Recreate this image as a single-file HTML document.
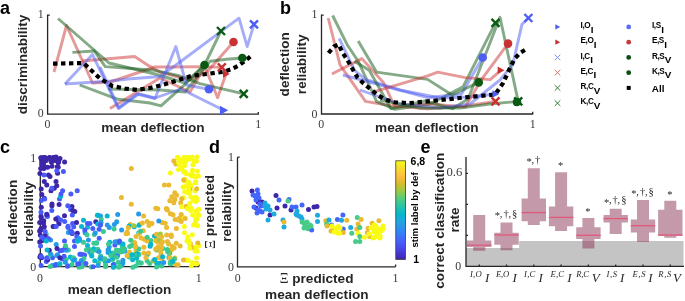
<!DOCTYPE html><html><head><meta charset="utf-8"><style>html,body{margin:0;padding:0;background:#fff;overflow:hidden}svg{display:block}</style></head><body><svg width="685" height="301" viewBox="0 0 685 301" style="will-change:transform">
<rect width="685" height="301" fill="#fff"/>
<text x="0" y="13.9" font-size="18" text-anchor="start" font-weight="bold" font-family='"Liberation Sans", sans-serif' fill="#000" font-style="normal" >a</text>
<path d="M47.6,14.6 V114.1 H258.9 M258.3,114.1 V111.89999999999999 M47.6,15.2 H49.800000000000004" fill="none" stroke="#262626" stroke-width="1.3" stroke-linecap="butt"/>
<text transform="translate(43.6,17.8) scale(0.9,1)" font-size="13.2" text-anchor="end" font-weight="normal" font-family='"Liberation Serif", serif' fill="#3a3a3a" font-style="normal" >1</text>
<text transform="translate(43.6,117.2) scale(0.9,1)" font-size="13.2" text-anchor="end" font-weight="normal" font-family='"Liberation Serif", serif' fill="#3a3a3a" font-style="normal" >0</text>
<text transform="translate(47.5,128.2) scale(0.9,1)" font-size="13.2" text-anchor="middle" font-weight="normal" font-family='"Liberation Serif", serif' fill="#3a3a3a" font-style="normal" >0</text>
<text transform="translate(258.1,128.2) scale(0.9,1)" font-size="13.2" text-anchor="middle" font-weight="normal" font-family='"Liberation Serif", serif' fill="#3a3a3a" font-style="normal" >1</text>
<text x="152.9" y="131.8" font-size="13.6" text-anchor="middle" font-weight="bold" font-family='"Liberation Sans", sans-serif' fill="#262626" font-style="normal" >mean deflection</text>
<text transform="translate(27.3,64.5) rotate(-90)" font-size="13.6" text-anchor="middle" font-weight="bold" font-family='"Liberation Sans", sans-serif' fill="#262626">discriminability</text>
<path d="M54.0,72.0 L66.5,25.5 L92.5,83.0 L110.0,82.0 L155.0,67.0 L175.0,67.0 L203.0,66.6 L221.8,67.4" fill="none" stroke="#cc3333" stroke-width="2.9" stroke-opacity="0.5" stroke-linejoin="round" stroke-linecap="butt"/>
<path d="M82.0,61.0 L134.7,56.5 L147.5,65.0 L160.0,72.0 L190.0,80.0 L207.0,72.0 L233.5,42.0" fill="none" stroke="#cc3333" stroke-width="2.9" stroke-opacity="0.5" stroke-linejoin="round" stroke-linecap="butt"/>
<path d="M110.0,108.4 L160.0,78.0 L190.0,92.0 L204.8,66.6 L217.6,97.7 L226.0,74.0" fill="none" stroke="#cc3333" stroke-width="2.9" stroke-opacity="0.5" stroke-linejoin="round" stroke-linecap="butt"/>
<path d="M58.0,18.5 L109.0,63.0 L155.0,74.0 L185.0,83.0 L204.5,65.0 L221.0,31.0" fill="none" stroke="#0a550f" stroke-width="2.9" stroke-opacity="0.5" stroke-linejoin="round" stroke-linecap="butt"/>
<path d="M72.4,52.4 L94.3,51.0 L105.3,66.6 L154.6,70.3 L180.0,76.0 L200.0,83.6 L243.7,93.8" fill="none" stroke="#0a550f" stroke-width="2.9" stroke-opacity="0.5" stroke-linejoin="round" stroke-linecap="butt"/>
<path d="M79.7,85.0 L118.0,99.3 L150.0,103.0 L161.0,105.8 L186.5,83.0 L204.5,65.0" fill="none" stroke="#0a550f" stroke-width="2.9" stroke-opacity="0.5" stroke-linejoin="round" stroke-linecap="butt"/>
<path d="M108.0,89.0 L160.0,90.0 L185.0,92.0 L210.3,61.2 L226.8,59.3 L242.3,58.0" fill="none" stroke="#0a550f" stroke-width="2.9" stroke-opacity="0.5" stroke-linejoin="round" stroke-linecap="butt"/>
<path d="M65.0,84.0 L92.5,54.6 L118.0,108.0 L137.0,94.0 L155.0,98.5 L175.8,46.5 L186.5,85.0 L208.9,89.3" fill="none" stroke="#4c5cf2" stroke-width="2.9" stroke-opacity="0.5" stroke-linejoin="round" stroke-linecap="butt"/>
<path d="M65.0,84.0 L111.0,81.0 L128.0,79.0 L160.0,76.5 L178.7,63.0 L239.0,18.2 L247.2,46.6 L254.0,24.3" fill="none" stroke="#4c5cf2" stroke-width="2.9" stroke-opacity="0.5" stroke-linejoin="round" stroke-linecap="butt"/>
<path d="M100.0,67.0 L119.0,108.4 L139.0,93.8 L155.0,98.0 L181.0,89.0 L222.8,109.8" fill="none" stroke="#4c5cf2" stroke-width="2.9" stroke-opacity="0.5" stroke-linejoin="round" stroke-linecap="butt"/>
<path d="M53.0,63.7 L83.4,63.0 L100.0,78.6 L112.5,86.1 L125.0,88.6 L137.4,89.9 L150.0,88.0 L162.3,85.0 L174.8,81.2 L191.7,75.8 L208.3,73.8 L224.1,71.6 L231.6,69.1 L238.3,65.8 L244.0,61.6 L251.5,55.6" fill="none" stroke="#000" stroke-width="4.2" stroke-opacity="1" stroke-linejoin="round" stroke-linecap="butt" stroke-dasharray="4.4,3.6"/>
<path d="M250.0,20.3 L258.0,28.3 M250.0,28.3 L258.0,20.3" stroke="#4d5ef5" stroke-width="2.4" fill="none"/>
<path d="M217.0,27.0 L225.0,35.0 M217.0,35.0 L225.0,27.0" stroke="#0b5a14" stroke-width="2.4" fill="none"/>
<circle cx="233.5" cy="42" r="4.3" fill="#c83232"/>
<circle cx="242.3" cy="58" r="4.3" fill="#0b5a14"/>
<circle cx="204.5" cy="65" r="4.3" fill="#0b5a14"/>
<path d="M217.8,63.400000000000006 L225.8,71.4 M217.8,71.4 L225.8,63.400000000000006" stroke="#c83232" stroke-width="2.4" fill="none"/>
<path d="M222.96,70.2 L229.8,74 L222.96,77.8 Z" fill="#c83232"/>
<circle cx="208.9" cy="89.3" r="4.3" fill="#4d5ef5"/>
<path d="M239.7,89.8 L247.7,97.8 M239.7,97.8 L247.7,89.8" stroke="#0b5a14" stroke-width="2.4" fill="none"/>
<path d="M219.92,105.7 L228.2,110.3 L219.92,114.89999999999999 Z" fill="#4d5ef5"/>
<text x="280" y="13.9" font-size="18" text-anchor="start" font-weight="bold" font-family='"Liberation Sans", sans-serif' fill="#000" font-style="normal" >b</text>
<path d="M321.5,14.6 V114.0 H533.3 M532.7,114.0 V111.8 M321.5,15.2 H323.7" fill="none" stroke="#262626" stroke-width="1.3" stroke-linecap="butt"/>
<text transform="translate(317.4,18.2) scale(0.9,1)" font-size="13.2" text-anchor="end" font-weight="normal" font-family='"Liberation Serif", serif' fill="#3a3a3a" font-style="normal" >1</text>
<text transform="translate(317.4,117.6) scale(0.9,1)" font-size="13.2" text-anchor="end" font-weight="normal" font-family='"Liberation Serif", serif' fill="#3a3a3a" font-style="normal" >0</text>
<text transform="translate(321.3,128.4) scale(0.9,1)" font-size="13.2" text-anchor="middle" font-weight="normal" font-family='"Liberation Serif", serif' fill="#3a3a3a" font-style="normal" >0</text>
<text transform="translate(532.8,128.4) scale(0.9,1)" font-size="13.2" text-anchor="middle" font-weight="normal" font-family='"Liberation Serif", serif' fill="#3a3a3a" font-style="normal" >1</text>
<text x="426.85" y="131.9" font-size="13.6" text-anchor="middle" font-weight="bold" font-family='"Liberation Sans", sans-serif' fill="#262626" font-style="normal" >mean deflection</text>
<text transform="translate(289.2,64.3) rotate(-90)" font-size="13.6" text-anchor="middle" font-weight="bold" font-family='"Liberation Sans", sans-serif' fill="#262626">deflection</text>
<text transform="translate(306.0,64.3) rotate(-90)" font-size="13.6" text-anchor="middle" font-weight="bold" font-family='"Liberation Sans", sans-serif' fill="#262626">reliability</text>
<path d="M328.2,18.0 L340.0,64.8 L365.5,101.4 L391.0,105.8 L427.6,108.7 L465.0,106.0 L495.5,101.4" fill="none" stroke="#cc3333" stroke-width="2.9" stroke-opacity="0.5" stroke-linejoin="round" stroke-linecap="butt"/>
<path d="M332.6,15.5 L347.2,44.7 L358.2,61.2 L376.5,101.4 L394.8,109.4 L430.0,104.0 L463.0,86.8 L495.5,22.8" fill="none" stroke="#0a550f" stroke-width="2.9" stroke-opacity="0.5" stroke-linejoin="round" stroke-linecap="butt"/>
<path d="M339.2,38.5 L354.5,70.3 L365.5,79.4 L400.0,90.0 L440.0,98.0 L470.0,97.0 L495.5,94.0" fill="none" stroke="#4c5cf2" stroke-width="2.9" stroke-opacity="0.5" stroke-linejoin="round" stroke-linecap="butt"/>
<path d="M331.9,74.0 L361.9,58.6 L383.8,83.0 L394.8,106.9 L430.0,104.0 L465.2,106.9 L481.6,79.4 L508.0,43.6" fill="none" stroke="#cc3333" stroke-width="2.9" stroke-opacity="0.5" stroke-linejoin="round" stroke-linecap="butt"/>
<path d="M342.9,75.0 L427.6,97.7 L461.5,94.0 L482.7,57.5" fill="none" stroke="#4c5cf2" stroke-width="2.9" stroke-opacity="0.5" stroke-linejoin="round" stroke-linecap="butt"/>
<path d="M358.2,41.0 L376.5,72.1 L427.6,79.4 L452.0,95.0 L478.7,82.4" fill="none" stroke="#0a550f" stroke-width="2.9" stroke-opacity="0.5" stroke-linejoin="round" stroke-linecap="butt"/>
<path d="M354.5,61.2 L369.2,70.3 L391.0,108.7 L425.0,101.0 L452.4,108.7 L468.0,99.0 L500.0,17.3 L518.2,101.4" fill="none" stroke="#0a550f" stroke-width="2.9" stroke-opacity="0.5" stroke-linejoin="round" stroke-linecap="butt"/>
<path d="M372.8,92.2 L427.6,75.8 L437.8,72.1 L465.2,77.6 L490.2,79.6 L500.7,70.3" fill="none" stroke="#cc3333" stroke-width="2.9" stroke-opacity="0.5" stroke-linejoin="round" stroke-linecap="butt"/>
<path d="M360.0,90.0 L400.0,104.0 L440.0,108.0 L470.0,104.0 L500.0,80.0 L512.7,64.8 L521.9,24.6 L528.4,18.0" fill="none" stroke="#4c5cf2" stroke-width="2.9" stroke-opacity="0.5" stroke-linejoin="round" stroke-linecap="butt"/>
<path d="M380.0,100.0 L420.0,108.0 L460.0,108.0 L490.0,104.0 L518.2,101.4" fill="none" stroke="#0a550f" stroke-width="2.9" stroke-opacity="0.5" stroke-linejoin="round" stroke-linecap="butt"/>
<path d="M328.5,53.0 L334.0,46.5 L338.7,44.5 L342.4,52.5 L347.4,60.0 L352.4,68.7 L357.4,77.4 L363.6,83.6 L369.9,88.6 L377.4,94.9 L384.8,99.3 L394.8,102.3 L409.4,103.2 L427.6,101.4 L468.9,97.0 L495.0,94.5 L499.0,89.0 L503.0,83.1 L508.9,70.3 L514.7,58.6 L520.5,52.6 L527.6,48.4" fill="none" stroke="#000" stroke-width="4.2" stroke-opacity="1" stroke-linejoin="round" stroke-linecap="butt" stroke-dasharray="4.4,3.6"/>
<path d="M491.5,18.8 L499.5,26.8 M491.5,26.8 L499.5,18.8" stroke="#0b5a14" stroke-width="2.4" fill="none"/>
<path d="M524.4,14.0 L532.4,22.0 M524.4,22.0 L532.4,14.0" stroke="#4d5ef5" stroke-width="2.4" fill="none"/>
<circle cx="508" cy="43.6" r="4.3" fill="#c83232"/>
<circle cx="482.7" cy="57.5" r="4.3" fill="#4d5ef5"/>
<path d="M497.65999999999997,66.5 L504.5,70.3 L497.65999999999997,74.1 Z" fill="#c83232"/>
<circle cx="478.7" cy="82.4" r="4.3" fill="#0b5a14"/>
<path d="M492.46,90.2 L499.3,94 L492.46,97.8 Z" fill="#4d5ef5"/>
<path d="M491.5,97.4 L499.5,105.4 M491.5,105.4 L499.5,97.4" stroke="#c83232" stroke-width="2.4" fill="none"/>
<circle cx="517" cy="102" r="4.3" fill="#0b5a14"/>
<path d="M514.2,97.4 L522.2,105.4 M514.2,105.4 L522.2,97.4" stroke="#0b5a14" stroke-width="2.4" fill="none"/>
<path d="M555.34,24.2 L560.2,26.9 L555.34,29.599999999999998 Z" fill="#4d5ef5"/>
<text x="580.6" y="28.099999999999998" font-size="8.2" font-weight="bold" font-family='"Liberation Sans", sans-serif' fill="#000" letter-spacing="-0.45">I,O<tspan font-size="9.9" dx="0.5" dy="4.4" letter-spacing="0">I</tspan></text>
<path d="M555.34,39.449999999999996 L560.2,42.15 L555.34,44.85 Z" fill="#c83232"/>
<text x="580.6" y="43.35" font-size="8.2" font-weight="bold" font-family='"Liberation Sans", sans-serif' fill="#000" letter-spacing="-0.45">E,O<tspan font-size="9.9" dx="0.5" dy="4.4" letter-spacing="0">I</tspan></text>
<path d="M554.7,54.6 L560.3,60.199999999999996 M554.7,60.199999999999996 L560.3,54.6" stroke="#7f8cf5" stroke-width="1.0" fill="none"/>
<text x="580.6" y="58.6" font-size="8.2" font-weight="bold" font-family='"Liberation Sans", sans-serif' fill="#000" letter-spacing="-0.45">I,C<tspan font-size="9.9" dx="0.5" dy="4.4" letter-spacing="0">I</tspan></text>
<path d="M554.7,69.85000000000001 L560.3,75.45 M554.7,75.45 L560.3,69.85000000000001" stroke="#d97373" stroke-width="1.0" fill="none"/>
<text x="580.6" y="73.85000000000001" font-size="8.2" font-weight="bold" font-family='"Liberation Sans", sans-serif' fill="#000" letter-spacing="-0.45">E,C<tspan font-size="9.9" dx="0.5" dy="4.4" letter-spacing="0">I</tspan></text>
<path d="M554.7,85.10000000000001 L560.3,90.7 M554.7,90.7 L560.3,85.10000000000001" stroke="#2e7d32" stroke-width="1.0" fill="none"/>
<text x="580.6" y="89.10000000000001" font-size="8.2" font-weight="bold" font-family='"Liberation Sans", sans-serif' fill="#000" letter-spacing="-0.45">R,C<tspan font-size="9.9" dx="0.5" dy="4.4" letter-spacing="0">V</tspan></text>
<path d="M554.7,100.35000000000001 L560.3,105.95 M554.7,105.95 L560.3,100.35000000000001" stroke="#2e7d32" stroke-width="1.0" fill="none"/>
<text x="580.6" y="104.35000000000001" font-size="8.2" font-weight="bold" font-family='"Liberation Sans", sans-serif' fill="#000" letter-spacing="-0.45">K,C<tspan font-size="9.9" dx="0.5" dy="4.4" letter-spacing="0">V</tspan></text>
<circle cx="628.7" cy="26.9" r="2.4" fill="#5b6cf2"/>
<text x="652.0" y="28.099999999999998" font-size="8.2" font-weight="bold" font-family='"Liberation Sans", sans-serif' fill="#000" letter-spacing="-0.45">I,S<tspan font-size="9.9" dx="0.5" dy="4.4" letter-spacing="0">I</tspan></text>
<circle cx="628.7" cy="42.15" r="2.4" fill="#c83a3a"/>
<text x="652.0" y="43.35" font-size="8.2" font-weight="bold" font-family='"Liberation Sans", sans-serif' fill="#000" letter-spacing="-0.45">E,S<tspan font-size="9.9" dx="0.5" dy="4.4" letter-spacing="0">I</tspan></text>
<circle cx="628.7" cy="57.4" r="2.4" fill="#0b4d12"/>
<text x="652.0" y="58.6" font-size="8.2" font-weight="bold" font-family='"Liberation Sans", sans-serif' fill="#000" letter-spacing="-0.45">R,S<tspan font-size="9.9" dx="0.5" dy="4.4" letter-spacing="0">V</tspan></text>
<circle cx="628.7" cy="72.65" r="2.4" fill="#0b4d12"/>
<text x="652.0" y="73.85000000000001" font-size="8.2" font-weight="bold" font-family='"Liberation Sans", sans-serif' fill="#000" letter-spacing="-0.45">K,S<tspan font-size="9.9" dx="0.5" dy="4.4" letter-spacing="0">V</tspan></text>
<rect x="626.7" y="85.9" width="4" height="4" fill="#000"/>
<text x="651.8" y="91.60000000000001" font-size="9.9" text-anchor="start" font-weight="bold" font-family='"Liberation Sans", sans-serif' fill="#000" font-style="normal" >All</text>
<text x="0" y="152.7" font-size="18" text-anchor="start" font-weight="bold" font-family='"Liberation Sans", sans-serif' fill="#000" font-style="normal" >c</text>
<path d="M40.3,157.4 V266.6 H199.0 M199.0,266.6 V264.40000000000003 M40.3,157.4 H42.5" fill="none" stroke="#262626" stroke-width="1.3" stroke-linecap="butt"/>
<circle cx="161.9" cy="258.5" r="2.5" fill="#eaba31"/>
<circle cx="186.9" cy="241.0" r="2.5" fill="#f9fb15"/>
<circle cx="161.0" cy="254.1" r="2.5" fill="#eaba31"/>
<circle cx="166.4" cy="208.8" r="2.5" fill="#eaba31"/>
<circle cx="185.6" cy="260.0" r="2.5" fill="#f9fb15"/>
<circle cx="147.3" cy="254.5" r="2.5" fill="#05b6ce"/>
<circle cx="129.7" cy="246.5" r="2.5" fill="#3bc992"/>
<circle cx="39.9" cy="256.9" r="2.5" fill="#3e26a8"/>
<circle cx="49.5" cy="157.7" r="2.5" fill="#3e26a8"/>
<circle cx="162.9" cy="248.6" r="2.5" fill="#3bc992"/>
<circle cx="98.5" cy="262.7" r="2.5" fill="#3bc992"/>
<circle cx="107.3" cy="224.9" r="2.5" fill="#2699ea"/>
<circle cx="58.2" cy="167.2" r="2.5" fill="#3e26a8"/>
<circle cx="187.1" cy="207.4" r="2.5" fill="#f9fb15"/>
<circle cx="45.5" cy="157.8" r="2.5" fill="#3e26a8"/>
<circle cx="139.7" cy="263.0" r="2.5" fill="#3bc992"/>
<circle cx="91.2" cy="266.9" r="2.5" fill="#3bc992"/>
<circle cx="156.4" cy="237.0" r="2.5" fill="#eaba31"/>
<circle cx="154.5" cy="235.9" r="2.5" fill="#05b6ce"/>
<circle cx="89.5" cy="249.5" r="2.5" fill="#3bc992"/>
<circle cx="68.4" cy="232.5" r="2.5" fill="#2699ea"/>
<circle cx="79.7" cy="240.3" r="2.5" fill="#05b6ce"/>
<circle cx="122.9" cy="246.2" r="2.5" fill="#05b6ce"/>
<circle cx="138.4" cy="254.0" r="2.5" fill="#3bc992"/>
<circle cx="47.4" cy="216.6" r="2.5" fill="#475cfa"/>
<circle cx="171.5" cy="249.7" r="2.5" fill="#eaba31"/>
<circle cx="41.8" cy="240.8" r="2.5" fill="#3e26a8"/>
<circle cx="56.0" cy="157.1" r="2.5" fill="#3e26a8"/>
<circle cx="122.9" cy="262.7" r="2.5" fill="#05b6ce"/>
<circle cx="105.5" cy="266.6" r="2.5" fill="#3bc992"/>
<circle cx="198.8" cy="245.7" r="2.5" fill="#f9fb15"/>
<circle cx="68.0" cy="265.8" r="2.5" fill="#2699ea"/>
<circle cx="99.9" cy="258.4" r="2.5" fill="#05b6ce"/>
<circle cx="133.2" cy="244.7" r="2.5" fill="#3bc992"/>
<circle cx="41.5" cy="257.8" r="2.5" fill="#3e26a8"/>
<circle cx="62.5" cy="250.3" r="2.5" fill="#475cfa"/>
<circle cx="161.6" cy="247.4" r="2.5" fill="#eaba31"/>
<circle cx="50.5" cy="240.1" r="2.5" fill="#2699ea"/>
<circle cx="122.1" cy="248.4" r="2.5" fill="#3bc992"/>
<circle cx="73.8" cy="260.2" r="2.5" fill="#05b6ce"/>
<circle cx="52.2" cy="265.5" r="2.5" fill="#2699ea"/>
<circle cx="167.4" cy="210.1" r="2.5" fill="#eaba31"/>
<circle cx="198.8" cy="209.3" r="2.5" fill="#f9fb15"/>
<circle cx="46.2" cy="234.2" r="2.5" fill="#3bc992"/>
<circle cx="197.3" cy="200.3" r="2.5" fill="#f9fb15"/>
<circle cx="79.0" cy="267.2" r="2.5" fill="#3bc992"/>
<circle cx="130.3" cy="224.5" r="2.5" fill="#eaba31"/>
<circle cx="83.5" cy="242.3" r="2.5" fill="#3bc992"/>
<circle cx="55.1" cy="265.3" r="2.5" fill="#475cfa"/>
<circle cx="41.3" cy="158.5" r="2.5" fill="#3e26a8"/>
<circle cx="71.0" cy="230.9" r="2.5" fill="#475cfa"/>
<circle cx="46.7" cy="214.3" r="2.5" fill="#475cfa"/>
<circle cx="140.0" cy="224.3" r="2.5" fill="#eaba31"/>
<circle cx="77.3" cy="233.2" r="2.5" fill="#3e26a8"/>
<circle cx="135.6" cy="246.3" r="2.5" fill="#eaba31"/>
<circle cx="82.0" cy="266.7" r="2.5" fill="#3bc992"/>
<circle cx="52.5" cy="257.8" r="2.5" fill="#475cfa"/>
<circle cx="81.0" cy="254.2" r="2.5" fill="#05b6ce"/>
<circle cx="143.9" cy="252.9" r="2.5" fill="#eaba31"/>
<circle cx="105.4" cy="261.9" r="2.5" fill="#05b6ce"/>
<circle cx="82.9" cy="264.5" r="2.5" fill="#2699ea"/>
<circle cx="122.5" cy="246.7" r="2.5" fill="#3bc992"/>
<circle cx="191.2" cy="208.3" r="2.5" fill="#f9fb15"/>
<circle cx="76.8" cy="236.5" r="2.5" fill="#475cfa"/>
<circle cx="97.4" cy="215.3" r="2.5" fill="#05b6ce"/>
<circle cx="84.6" cy="254.9" r="2.5" fill="#475cfa"/>
<circle cx="197.4" cy="171.2" r="2.5" fill="#f9fb15"/>
<circle cx="185.3" cy="157.7" r="2.5" fill="#f9fb15"/>
<circle cx="41.8" cy="194.6" r="2.5" fill="#3e26a8"/>
<circle cx="195.5" cy="182.7" r="2.5" fill="#f9fb15"/>
<circle cx="113.6" cy="265.3" r="2.5" fill="#05b6ce"/>
<circle cx="107.2" cy="215.9" r="2.5" fill="#05b6ce"/>
<circle cx="139.0" cy="225.2" r="2.5" fill="#05b6ce"/>
<circle cx="192.3" cy="234.8" r="2.5" fill="#f9fb15"/>
<circle cx="112.6" cy="259.1" r="2.5" fill="#05b6ce"/>
<circle cx="184.7" cy="191.8" r="2.5" fill="#f9fb15"/>
<circle cx="108.1" cy="252.5" r="2.5" fill="#2699ea"/>
<circle cx="147.1" cy="260.9" r="2.5" fill="#3bc992"/>
<circle cx="120.0" cy="243.0" r="2.5" fill="#05b6ce"/>
<circle cx="156.6" cy="249.9" r="2.5" fill="#3bc992"/>
<circle cx="186.1" cy="158.2" r="2.5" fill="#f9fb15"/>
<circle cx="197.2" cy="251.0" r="2.5" fill="#f9fb15"/>
<circle cx="132.6" cy="259.7" r="2.5" fill="#05b6ce"/>
<circle cx="197.5" cy="213.6" r="2.5" fill="#f9fb15"/>
<circle cx="143.2" cy="230.7" r="2.5" fill="#eaba31"/>
<circle cx="159.4" cy="264.8" r="2.5" fill="#3bc992"/>
<circle cx="183.7" cy="197.8" r="2.5" fill="#f9fb15"/>
<circle cx="169.3" cy="258.2" r="2.5" fill="#eaba31"/>
<circle cx="196.1" cy="250.8" r="2.5" fill="#f9fb15"/>
<circle cx="188.2" cy="260.4" r="2.5" fill="#f9fb15"/>
<circle cx="118.6" cy="267.3" r="2.5" fill="#3bc992"/>
<circle cx="138.1" cy="261.9" r="2.5" fill="#3bc992"/>
<circle cx="57.6" cy="254.7" r="2.5" fill="#2699ea"/>
<circle cx="157.7" cy="242.0" r="2.5" fill="#eaba31"/>
<circle cx="55.3" cy="160.6" r="2.5" fill="#3e26a8"/>
<circle cx="56.9" cy="255.4" r="2.5" fill="#2699ea"/>
<circle cx="169.0" cy="257.2" r="2.5" fill="#05b6ce"/>
<circle cx="156.5" cy="234.2" r="2.5" fill="#eaba31"/>
<circle cx="175.1" cy="219.6" r="2.5" fill="#eaba31"/>
<circle cx="145.9" cy="257.5" r="2.5" fill="#eaba31"/>
<circle cx="112.5" cy="252.9" r="2.5" fill="#3bc992"/>
<circle cx="56.2" cy="244.6" r="2.5" fill="#2699ea"/>
<circle cx="124.5" cy="248.9" r="2.5" fill="#3bc992"/>
<circle cx="43.4" cy="163.7" r="2.5" fill="#3e26a8"/>
<circle cx="183.7" cy="217.7" r="2.5" fill="#f9fb15"/>
<circle cx="89.9" cy="223.5" r="2.5" fill="#475cfa"/>
<circle cx="59.5" cy="199.0" r="2.5" fill="#475cfa"/>
<circle cx="50.4" cy="253.9" r="2.5" fill="#3bc992"/>
<circle cx="192.1" cy="157.0" r="2.5" fill="#f9fb15"/>
<circle cx="131.3" cy="168.5" r="2.5" fill="#eaba31"/>
<circle cx="43.7" cy="168.4" r="2.5" fill="#3e26a8"/>
<circle cx="79.9" cy="254.3" r="2.5" fill="#475cfa"/>
<circle cx="94.4" cy="234.6" r="2.5" fill="#3bc992"/>
<circle cx="178.1" cy="264.8" r="2.5" fill="#eaba31"/>
<circle cx="45.1" cy="235.8" r="2.5" fill="#3e26a8"/>
<circle cx="48.5" cy="175" r="2.5" fill="#3e26a8"/>
<circle cx="96.3" cy="250.1" r="2.5" fill="#05b6ce"/>
<circle cx="135.8" cy="266.0" r="2.5" fill="#3bc992"/>
<circle cx="116.4" cy="250.1" r="2.5" fill="#3bc992"/>
<circle cx="46.9" cy="215.9" r="2.5" fill="#475cfa"/>
<circle cx="49.3" cy="157.8" r="2.5" fill="#3e26a8"/>
<circle cx="117.7" cy="242.0" r="2.5" fill="#475cfa"/>
<circle cx="124.7" cy="251.2" r="2.5" fill="#2699ea"/>
<circle cx="68.4" cy="249.9" r="2.5" fill="#3bc992"/>
<circle cx="194.9" cy="248.5" r="2.5" fill="#eaba31"/>
<circle cx="100.6" cy="256.1" r="2.5" fill="#3bc992"/>
<circle cx="171.8" cy="196.8" r="2.5" fill="#eaba31"/>
<circle cx="190.4" cy="243.8" r="2.5" fill="#eaba31"/>
<circle cx="189.9" cy="248.1" r="2.5" fill="#f9fb15"/>
<circle cx="179.2" cy="164.6" r="2.5" fill="#f9fb15"/>
<circle cx="186.5" cy="185.8" r="2.5" fill="#f9fb15"/>
<circle cx="41.2" cy="217.7" r="2.5" fill="#3e26a8"/>
<circle cx="98.0" cy="265.5" r="2.5" fill="#2699ea"/>
<circle cx="195.8" cy="197.3" r="2.5" fill="#f9fb15"/>
<circle cx="52.2" cy="158.4" r="2.5" fill="#3e26a8"/>
<circle cx="44" cy="175" r="2.5" fill="#475cfa"/>
<circle cx="185.2" cy="218.4" r="2.5" fill="#eaba31"/>
<circle cx="40.3" cy="235.1" r="2.5" fill="#3e26a8"/>
<circle cx="46.9" cy="214.4" r="2.5" fill="#3e26a8"/>
<circle cx="178.1" cy="157.6" r="2.5" fill="#f9fb15"/>
<circle cx="53.4" cy="160.1" r="2.5" fill="#3e26a8"/>
<circle cx="129.2" cy="256.9" r="2.5" fill="#3bc992"/>
<circle cx="100.5" cy="216.0" r="2.5" fill="#2699ea"/>
<circle cx="103.6" cy="259.5" r="2.5" fill="#3bc992"/>
<circle cx="112.4" cy="259.5" r="2.5" fill="#3bc992"/>
<circle cx="185.6" cy="162.1" r="2.5" fill="#f9fb15"/>
<circle cx="134.7" cy="242.4" r="2.5" fill="#eaba31"/>
<circle cx="114.9" cy="244.9" r="2.5" fill="#475cfa"/>
<circle cx="171.3" cy="236.5" r="2.5" fill="#eaba31"/>
<circle cx="194.4" cy="160.9" r="2.5" fill="#f9fb15"/>
<circle cx="71.9" cy="206.5" r="2.5" fill="#3e26a8"/>
<circle cx="174.8" cy="258.0" r="2.5" fill="#eaba31"/>
<circle cx="74.8" cy="211.6" r="2.5" fill="#3e26a8"/>
<circle cx="162.1" cy="222.4" r="2.5" fill="#eaba31"/>
<circle cx="190.7" cy="196.8" r="2.5" fill="#f9fb15"/>
<circle cx="185.9" cy="206.6" r="2.5" fill="#eaba31"/>
<circle cx="191.3" cy="186.0" r="2.5" fill="#f9fb15"/>
<circle cx="46.3" cy="261.5" r="2.5" fill="#475cfa"/>
<circle cx="141.3" cy="263.0" r="2.5" fill="#3bc992"/>
<circle cx="189.4" cy="158.1" r="2.5" fill="#f9fb15"/>
<circle cx="66.3" cy="250.3" r="2.5" fill="#2699ea"/>
<circle cx="159.6" cy="263.2" r="2.5" fill="#2699ea"/>
<circle cx="187.8" cy="236.9" r="2.5" fill="#f9fb15"/>
<circle cx="85.1" cy="264.5" r="2.5" fill="#3bc992"/>
<circle cx="195.7" cy="201.4" r="2.5" fill="#f9fb15"/>
<circle cx="180.7" cy="202.8" r="2.5" fill="#eaba31"/>
<circle cx="184.9" cy="179.2" r="2.5" fill="#f9fb15"/>
<circle cx="79.1" cy="238.4" r="2.5" fill="#2699ea"/>
<circle cx="156.6" cy="263.0" r="2.5" fill="#05b6ce"/>
<circle cx="172.0" cy="262.0" r="2.5" fill="#2699ea"/>
<circle cx="40.6" cy="255.6" r="2.5" fill="#3e26a8"/>
<circle cx="169.7" cy="253.3" r="2.5" fill="#05b6ce"/>
<circle cx="74.5" cy="246.4" r="2.5" fill="#475cfa"/>
<circle cx="131.8" cy="245.5" r="2.5" fill="#3bc992"/>
<circle cx="138.8" cy="233.1" r="2.5" fill="#05b6ce"/>
<circle cx="127.1" cy="232.3" r="2.5" fill="#eaba31"/>
<circle cx="196.6" cy="263.4" r="2.5" fill="#eaba31"/>
<circle cx="41.7" cy="161.0" r="2.5" fill="#3e26a8"/>
<circle cx="56.1" cy="264.6" r="2.5" fill="#2699ea"/>
<circle cx="161.4" cy="243.4" r="2.5" fill="#eaba31"/>
<circle cx="43.7" cy="220.7" r="2.5" fill="#3e26a8"/>
<circle cx="195.0" cy="176.5" r="2.5" fill="#f9fb15"/>
<circle cx="62.3" cy="259.1" r="2.5" fill="#475cfa"/>
<circle cx="47.7" cy="259.7" r="2.5" fill="#3e26a8"/>
<circle cx="41.3" cy="207.3" r="2.5" fill="#3e26a8"/>
<circle cx="114.3" cy="224.6" r="2.5" fill="#2699ea"/>
<circle cx="95.8" cy="221.7" r="2.5" fill="#3e26a8"/>
<circle cx="59.0" cy="223.7" r="2.5" fill="#3e26a8"/>
<circle cx="129.4" cy="251.9" r="2.5" fill="#eaba31"/>
<circle cx="132.8" cy="267.2" r="2.5" fill="#3bc992"/>
<circle cx="117.7" cy="214.4" r="2.5" fill="#2699ea"/>
<circle cx="101.8" cy="258.8" r="2.5" fill="#05b6ce"/>
<circle cx="148.9" cy="225.6" r="2.5" fill="#eaba31"/>
<circle cx="53.1" cy="226.5" r="2.5" fill="#3e26a8"/>
<circle cx="91.0" cy="254.4" r="2.5" fill="#3bc992"/>
<circle cx="92.8" cy="228.6" r="2.5" fill="#475cfa"/>
<circle cx="87.5" cy="227.2" r="2.5" fill="#05b6ce"/>
<circle cx="116.2" cy="241.8" r="2.5" fill="#3bc992"/>
<circle cx="168.9" cy="252.8" r="2.5" fill="#9fc942"/>
<circle cx="195.7" cy="218.8" r="2.5" fill="#f9fb15"/>
<circle cx="44.1" cy="157.8" r="2.5" fill="#3e26a8"/>
<circle cx="169.7" cy="257.8" r="2.5" fill="#eaba31"/>
<circle cx="44.1" cy="160.1" r="2.5" fill="#3e26a8"/>
<circle cx="198.4" cy="176.0" r="2.5" fill="#f9fb15"/>
<circle cx="72.0" cy="264.4" r="2.5" fill="#3bc992"/>
<circle cx="67.5" cy="266.2" r="2.5" fill="#475cfa"/>
<circle cx="51.8" cy="210.4" r="2.5" fill="#475cfa"/>
<circle cx="64.6" cy="162" r="2.5" fill="#3e26a8"/>
<circle cx="101.2" cy="219.5" r="2.5" fill="#3bc992"/>
<circle cx="93.1" cy="266.7" r="2.5" fill="#475cfa"/>
<circle cx="81.3" cy="266.7" r="2.5" fill="#3bc992"/>
<circle cx="51.5" cy="162.1" r="2.5" fill="#3e26a8"/>
<circle cx="150.9" cy="240.5" r="2.5" fill="#3bc992"/>
<circle cx="82.3" cy="254.5" r="2.5" fill="#475cfa"/>
<circle cx="59.9" cy="264.3" r="2.5" fill="#3bc992"/>
<circle cx="66.1" cy="259.5" r="2.5" fill="#3bc992"/>
<circle cx="193.0" cy="164.8" r="2.5" fill="#f9fb15"/>
<circle cx="190.7" cy="210.5" r="2.5" fill="#f9fb15"/>
<circle cx="196.4" cy="264.0" r="2.5" fill="#f9fb15"/>
<circle cx="175.1" cy="264.3" r="2.5" fill="#eaba31"/>
<circle cx="121.6" cy="230.0" r="2.5" fill="#2699ea"/>
<circle cx="55.9" cy="264.8" r="2.5" fill="#475cfa"/>
<circle cx="110.3" cy="253.6" r="2.5" fill="#05b6ce"/>
<circle cx="54.3" cy="157.5" r="2.5" fill="#3e26a8"/>
<circle cx="195.9" cy="177.1" r="2.5" fill="#f9fb15"/>
<circle cx="114.4" cy="254.3" r="2.5" fill="#3bc992"/>
<circle cx="197.0" cy="219.1" r="2.5" fill="#f9fb15"/>
<circle cx="164.4" cy="184.9" r="2.5" fill="#eaba31"/>
<circle cx="77.2" cy="190.7" r="2.5" fill="#475cfa"/>
<circle cx="97.7" cy="224.1" r="2.5" fill="#05b6ce"/>
<circle cx="52.0" cy="204.1" r="2.5" fill="#3e26a8"/>
<circle cx="41.1" cy="265.4" r="2.5" fill="#475cfa"/>
<circle cx="39.7" cy="242.0" r="2.5" fill="#3e26a8"/>
<circle cx="79.2" cy="238.9" r="2.5" fill="#2699ea"/>
<circle cx="101.0" cy="222.6" r="2.5" fill="#2699ea"/>
<circle cx="41.9" cy="157.7" r="2.5" fill="#3e26a8"/>
<circle cx="49.3" cy="250.2" r="2.5" fill="#3e26a8"/>
<circle cx="183.5" cy="259.9" r="2.5" fill="#eaba31"/>
<circle cx="158.8" cy="221.0" r="2.5" fill="#2699ea"/>
<circle cx="134.2" cy="226.7" r="2.5" fill="#05b6ce"/>
<circle cx="44.0" cy="167.9" r="2.5" fill="#3e26a8"/>
<circle cx="149.7" cy="263.6" r="2.5" fill="#3bc992"/>
<circle cx="167.4" cy="241.4" r="2.5" fill="#eaba31"/>
<circle cx="120.7" cy="266.1" r="2.5" fill="#3bc992"/>
<circle cx="190.0" cy="189.1" r="2.5" fill="#eaba31"/>
<circle cx="43.6" cy="165.8" r="2.5" fill="#3e26a8"/>
<circle cx="150.1" cy="246.2" r="2.5" fill="#05b6ce"/>
<circle cx="171.0" cy="261.7" r="2.5" fill="#3bc992"/>
<circle cx="193.4" cy="199.9" r="2.5" fill="#f9fb15"/>
<circle cx="115.5" cy="242.3" r="2.5" fill="#475cfa"/>
<circle cx="82.9" cy="262.2" r="2.5" fill="#3bc992"/>
<circle cx="192.1" cy="175.3" r="2.5" fill="#f9fb15"/>
<circle cx="155.9" cy="240.7" r="2.5" fill="#eaba31"/>
<circle cx="101.2" cy="257.8" r="2.5" fill="#2699ea"/>
<circle cx="72.6" cy="223.6" r="2.5" fill="#475cfa"/>
<circle cx="188.5" cy="240.2" r="2.5" fill="#f9fb15"/>
<circle cx="60.0" cy="158.5" r="2.5" fill="#3e26a8"/>
<circle cx="176.4" cy="228.6" r="2.5" fill="#eaba31"/>
<circle cx="143.9" cy="247.2" r="2.5" fill="#eaba31"/>
<circle cx="187.2" cy="208.5" r="2.5" fill="#f9fb15"/>
<circle cx="118.7" cy="250.4" r="2.5" fill="#3bc992"/>
<circle cx="93.7" cy="248.7" r="2.5" fill="#05b6ce"/>
<circle cx="159.6" cy="240.0" r="2.5" fill="#9fc942"/>
<circle cx="70.9" cy="194" r="2.5" fill="#475cfa"/>
<circle cx="97.8" cy="250.7" r="2.5" fill="#2699ea"/>
<circle cx="100.5" cy="225.1" r="2.5" fill="#475cfa"/>
<circle cx="41.2" cy="189.1" r="2.5" fill="#3e26a8"/>
<circle cx="49.6" cy="157.8" r="2.5" fill="#3e26a8"/>
<circle cx="51.3" cy="160.5" r="2.5" fill="#3e26a8"/>
<circle cx="46.8" cy="185" r="2.5" fill="#3e26a8"/>
<circle cx="147.2" cy="221.5" r="2.5" fill="#eaba31"/>
<circle cx="103.4" cy="231.5" r="2.5" fill="#3bc992"/>
<circle cx="40.9" cy="230.0" r="2.5" fill="#3e26a8"/>
<circle cx="88.4" cy="239.9" r="2.5" fill="#2699ea"/>
<circle cx="197.0" cy="156.9" r="2.5" fill="#f9fb15"/>
<circle cx="157.1" cy="249.1" r="2.5" fill="#9fc942"/>
<circle cx="170.4" cy="172.9" r="2.5" fill="#f9fb15"/>
<circle cx="58.7" cy="221.4" r="2.5" fill="#3e26a8"/>
<circle cx="193.6" cy="225.0" r="2.5" fill="#f9fb15"/>
<circle cx="96.5" cy="243.2" r="2.5" fill="#3bc992"/>
<circle cx="58.2" cy="162.8" r="2.5" fill="#3e26a8"/>
<circle cx="52.2" cy="158.2" r="2.5" fill="#3e26a8"/>
<circle cx="196.6" cy="198.3" r="2.5" fill="#f9fb15"/>
<circle cx="138.8" cy="254.5" r="2.5" fill="#3bc992"/>
<circle cx="57.9" cy="217.8" r="2.5" fill="#475cfa"/>
<circle cx="108.4" cy="250.3" r="2.5" fill="#05b6ce"/>
<circle cx="81.5" cy="226.4" r="2.5" fill="#05b6ce"/>
<circle cx="196.1" cy="211.0" r="2.5" fill="#f9fb15"/>
<circle cx="67.8" cy="205.7" r="2.5" fill="#475cfa"/>
<circle cx="46.3" cy="160.6" r="2.5" fill="#3e26a8"/>
<circle cx="114.2" cy="264.2" r="2.5" fill="#05b6ce"/>
<circle cx="178.9" cy="159.6" r="2.5" fill="#f9fb15"/>
<circle cx="118.4" cy="262.2" r="2.5" fill="#3bc992"/>
<circle cx="105.6" cy="265.3" r="2.5" fill="#3bc992"/>
<circle cx="166.7" cy="234.9" r="2.5" fill="#eaba31"/>
<circle cx="74.5" cy="241.1" r="2.5" fill="#475cfa"/>
<circle cx="185.2" cy="160.9" r="2.5" fill="#f9fb15"/>
<circle cx="122.1" cy="264.6" r="2.5" fill="#2699ea"/>
<circle cx="41.0" cy="216.2" r="2.5" fill="#3e26a8"/>
<circle cx="53.4" cy="157.7" r="2.5" fill="#3e26a8"/>
<circle cx="189.4" cy="159.3" r="2.5" fill="#f9fb15"/>
<circle cx="168.8" cy="184.9" r="2.5" fill="#eaba31"/>
<circle cx="197.8" cy="243.1" r="2.5" fill="#eaba31"/>
<circle cx="44.2" cy="157.4" r="2.5" fill="#3e26a8"/>
<circle cx="44.2" cy="238.9" r="2.5" fill="#475cfa"/>
<circle cx="121.4" cy="197.4" r="2.5" fill="#eaba31"/>
<circle cx="139.4" cy="233.5" r="2.5" fill="#eaba31"/>
<circle cx="143.6" cy="216.1" r="2.5" fill="#eaba31"/>
<circle cx="56" cy="181.6" r="2.5" fill="#3e26a8"/>
<circle cx="191.7" cy="176.0" r="2.5" fill="#f9fb15"/>
<circle cx="181.7" cy="206.8" r="2.5" fill="#f9fb15"/>
<circle cx="138.3" cy="254.8" r="2.5" fill="#3bc992"/>
<circle cx="54.3" cy="188.2" r="2.5" fill="#3e26a8"/>
<circle cx="74.8" cy="259.6" r="2.5" fill="#05b6ce"/>
<circle cx="113.5" cy="267.0" r="2.5" fill="#475cfa"/>
<circle cx="108.5" cy="260.7" r="2.5" fill="#2699ea"/>
<circle cx="162.4" cy="241.8" r="2.5" fill="#eaba31"/>
<circle cx="191.9" cy="247.4" r="2.5" fill="#eaba31"/>
<circle cx="136.2" cy="250.8" r="2.5" fill="#3bc992"/>
<circle cx="41.3" cy="200.6" r="2.5" fill="#475cfa"/>
<circle cx="94.8" cy="260.7" r="2.5" fill="#05b6ce"/>
<circle cx="115.0" cy="254.6" r="2.5" fill="#3bc992"/>
<circle cx="141.1" cy="237.9" r="2.5" fill="#eaba31"/>
<circle cx="109.3" cy="227.4" r="2.5" fill="#2699ea"/>
<circle cx="112.6" cy="257.5" r="2.5" fill="#05b6ce"/>
<circle cx="53.3" cy="157.9" r="2.5" fill="#3e26a8"/>
<circle cx="77.7" cy="264.0" r="2.5" fill="#475cfa"/>
<circle cx="116.7" cy="221.7" r="2.5" fill="#2699ea"/>
<circle cx="181.1" cy="160.7" r="2.5" fill="#f9fb15"/>
<circle cx="130.8" cy="255.5" r="2.5" fill="#3bc992"/>
<circle cx="65.3" cy="247.5" r="2.5" fill="#475cfa"/>
<circle cx="190.4" cy="174.7" r="2.5" fill="#f9fb15"/>
<circle cx="110.8" cy="255.5" r="2.5" fill="#3bc992"/>
<circle cx="181.9" cy="167.8" r="2.5" fill="#f9fb15"/>
<circle cx="192.7" cy="214.9" r="2.5" fill="#f9fb15"/>
<circle cx="155.6" cy="249.1" r="2.5" fill="#eaba31"/>
<circle cx="96.6" cy="242.7" r="2.5" fill="#3bc992"/>
<circle cx="155.8" cy="208.2" r="2.5" fill="#eaba31"/>
<circle cx="123.0" cy="243.9" r="2.5" fill="#05b6ce"/>
<circle cx="122.9" cy="260.2" r="2.5" fill="#2699ea"/>
<circle cx="76.5" cy="222.6" r="2.5" fill="#3e26a8"/>
<circle cx="174.2" cy="248.0" r="2.5" fill="#eaba31"/>
<circle cx="117.6" cy="255.5" r="2.5" fill="#2699ea"/>
<circle cx="70.5" cy="209.5" r="2.5" fill="#475cfa"/>
<circle cx="183.9" cy="157.6" r="2.5" fill="#f9fb15"/>
<circle cx="158.5" cy="257.7" r="2.5" fill="#eaba31"/>
<circle cx="140.5" cy="231.3" r="2.5" fill="#3bc992"/>
<circle cx="40.7" cy="168.6" r="2.5" fill="#3e26a8"/>
<circle cx="51.0" cy="254.4" r="2.5" fill="#2699ea"/>
<circle cx="170.5" cy="264.0" r="2.5" fill="#3bc992"/>
<circle cx="60.2" cy="250.8" r="2.5" fill="#475cfa"/>
<circle cx="173.8" cy="202.8" r="2.5" fill="#eaba31"/>
<circle cx="123.7" cy="250.8" r="2.5" fill="#3bc992"/>
<circle cx="109.2" cy="246.7" r="2.5" fill="#2699ea"/>
<circle cx="54.1" cy="226.4" r="2.5" fill="#3e26a8"/>
<circle cx="169.8" cy="200.8" r="2.5" fill="#eaba31"/>
<circle cx="87.5" cy="245.6" r="2.5" fill="#05b6ce"/>
<circle cx="185.6" cy="172.2" r="2.5" fill="#f9fb15"/>
<circle cx="44.3" cy="181.6" r="2.5" fill="#3e26a8"/>
<circle cx="60.6" cy="196.5" r="2.5" fill="#05b6ce"/>
<circle cx="120.0" cy="266.3" r="2.5" fill="#3bc992"/>
<circle cx="171.2" cy="234.9" r="2.5" fill="#eaba31"/>
<circle cx="109.8" cy="242.2" r="2.5" fill="#05b6ce"/>
<circle cx="136.4" cy="251.5" r="2.5" fill="#eaba31"/>
<circle cx="174.4" cy="259.1" r="2.5" fill="#3bc992"/>
<circle cx="153.0" cy="261.1" r="2.5" fill="#9fc942"/>
<circle cx="98.0" cy="215.2" r="2.5" fill="#05b6ce"/>
<circle cx="184.8" cy="180.9" r="2.5" fill="#f9fb15"/>
<circle cx="83.5" cy="220.2" r="2.5" fill="#05b6ce"/>
<circle cx="156.5" cy="267.1" r="2.5" fill="#3bc992"/>
<circle cx="131.3" cy="204.2" r="2.5" fill="#eaba31"/>
<circle cx="41.0" cy="228.5" r="2.5" fill="#3e26a8"/>
<circle cx="59.1" cy="204.4" r="2.5" fill="#3e26a8"/>
<circle cx="176.6" cy="195.2" r="2.5" fill="#eaba31"/>
<circle cx="64.1" cy="256.3" r="2.5" fill="#475cfa"/>
<circle cx="85.1" cy="232.8" r="2.5" fill="#2699ea"/>
<circle cx="48.1" cy="257.3" r="2.5" fill="#3bc992"/>
<circle cx="161.7" cy="266.1" r="2.5" fill="#3bc992"/>
<circle cx="127.1" cy="255.8" r="2.5" fill="#eaba31"/>
<circle cx="138.6" cy="214.0" r="2.5" fill="#2699ea"/>
<circle cx="56.5" cy="159.2" r="2.5" fill="#3e26a8"/>
<circle cx="42.3" cy="158.2" r="2.5" fill="#3e26a8"/>
<circle cx="177.4" cy="157.6" r="2.5" fill="#f9fb15"/>
<circle cx="47.1" cy="250.0" r="2.5" fill="#05b6ce"/>
<circle cx="70.3" cy="256.9" r="2.5" fill="#05b6ce"/>
<circle cx="136.5" cy="257.9" r="2.5" fill="#05b6ce"/>
<circle cx="167.7" cy="251.7" r="2.5" fill="#3bc992"/>
<circle cx="72.6" cy="259.2" r="2.5" fill="#05b6ce"/>
<circle cx="95.2" cy="233.0" r="2.5" fill="#2699ea"/>
<circle cx="62.6" cy="190.7" r="2.5" fill="#475cfa"/>
<circle cx="151.9" cy="223.6" r="2.5" fill="#eaba31"/>
<circle cx="39.6" cy="231.1" r="2.5" fill="#3e26a8"/>
<circle cx="168.6" cy="243.9" r="2.5" fill="#eaba31"/>
<circle cx="175.8" cy="164" r="2.5" fill="#eaba31"/>
<circle cx="170.2" cy="262.8" r="2.5" fill="#3bc992"/>
<circle cx="160.4" cy="234.0" r="2.5" fill="#9fc942"/>
<circle cx="55.8" cy="219.0" r="2.5" fill="#3e26a8"/>
<circle cx="41.8" cy="237.3" r="2.5" fill="#475cfa"/>
<circle cx="148.5" cy="252.9" r="2.5" fill="#eaba31"/>
<circle cx="64.5" cy="215.8" r="2.5" fill="#3e26a8"/>
<circle cx="45.1" cy="231.6" r="2.5" fill="#475cfa"/>
<circle cx="129.1" cy="226.1" r="2.5" fill="#05b6ce"/>
<circle cx="195.5" cy="222.1" r="2.5" fill="#f9fb15"/>
<circle cx="154.6" cy="259.5" r="2.5" fill="#05b6ce"/>
<circle cx="180.1" cy="245.9" r="2.5" fill="#eaba31"/>
<circle cx="46.6" cy="257.9" r="2.5" fill="#475cfa"/>
<circle cx="196.2" cy="247.1" r="2.5" fill="#f9fb15"/>
<circle cx="170.4" cy="213.7" r="2.5" fill="#eaba31"/>
<circle cx="73.4" cy="257.7" r="2.5" fill="#3bc992"/>
<circle cx="77.4" cy="241.2" r="2.5" fill="#05b6ce"/>
<circle cx="187.4" cy="157.4" r="2.5" fill="#f9fb15"/>
<circle cx="84.8" cy="229.9" r="2.5" fill="#475cfa"/>
<circle cx="83.9" cy="258.6" r="2.5" fill="#3bc992"/>
<circle cx="166.6" cy="227.4" r="2.5" fill="#eaba31"/>
<circle cx="163.7" cy="262.6" r="2.5" fill="#2699ea"/>
<circle cx="196.2" cy="161.3" r="2.5" fill="#f9fb15"/>
<circle cx="104.8" cy="258.8" r="2.5" fill="#3bc992"/>
<circle cx="48.4" cy="238.6" r="2.5" fill="#475cfa"/>
<circle cx="137.0" cy="253.8" r="2.5" fill="#05b6ce"/>
<circle cx="134.8" cy="255.1" r="2.5" fill="#3bc992"/>
<circle cx="60.7" cy="220.1" r="2.5" fill="#475cfa"/>
<circle cx="192.6" cy="262.8" r="2.5" fill="#f9fb15"/>
<circle cx="57.6" cy="173.3" r="2.5" fill="#3e26a8"/>
<circle cx="184.8" cy="172.3" r="2.5" fill="#f9fb15"/>
<circle cx="192.5" cy="170.2" r="2.5" fill="#f9fb15"/>
<circle cx="121.1" cy="252.0" r="2.5" fill="#3bc992"/>
<circle cx="118.8" cy="251.0" r="2.5" fill="#3bc992"/>
<circle cx="128.2" cy="227.8" r="2.5" fill="#eaba31"/>
<circle cx="47.6" cy="167.2" r="2.5" fill="#3e26a8"/>
<circle cx="72.3" cy="215.1" r="2.5" fill="#475cfa"/>
<circle cx="138.8" cy="249.1" r="2.5" fill="#3bc992"/>
<circle cx="72.2" cy="233.4" r="2.5" fill="#3e26a8"/>
<circle cx="108.1" cy="249.9" r="2.5" fill="#2699ea"/>
<circle cx="61" cy="194" r="2.5" fill="#475cfa"/>
<circle cx="65.3" cy="262.2" r="2.5" fill="#2699ea"/>
<circle cx="183.7" cy="179.9" r="2.5" fill="#eaba31"/>
<circle cx="68.0" cy="227.5" r="2.5" fill="#475cfa"/>
<circle cx="59.9" cy="257.7" r="2.5" fill="#3e26a8"/>
<circle cx="58.6" cy="161.8" r="2.5" fill="#3e26a8"/>
<circle cx="81.3" cy="260.5" r="2.5" fill="#2699ea"/>
<circle cx="56.8" cy="185.7" r="2.5" fill="#3e26a8"/>
<circle cx="51.9" cy="205.7" r="2.5" fill="#3e26a8"/>
<circle cx="198.9" cy="215.3" r="2.5" fill="#f9fb15"/>
<circle cx="127.6" cy="233.5" r="2.5" fill="#eaba31"/>
<circle cx="41.0" cy="212.3" r="2.5" fill="#475cfa"/>
<circle cx="158.1" cy="246.8" r="2.5" fill="#eaba31"/>
<circle cx="181.2" cy="214.6" r="2.5" fill="#eaba31"/>
<circle cx="150.7" cy="244.3" r="2.5" fill="#05b6ce"/>
<circle cx="187.7" cy="192.8" r="2.5" fill="#f9fb15"/>
<circle cx="146.9" cy="241.0" r="2.5" fill="#eaba31"/>
<circle cx="44.0" cy="161.7" r="2.5" fill="#3e26a8"/>
<circle cx="157.8" cy="208.8" r="2.5" fill="#eaba31"/>
<circle cx="97.7" cy="249.3" r="2.5" fill="#3bc992"/>
<circle cx="144.2" cy="239.3" r="2.5" fill="#eaba31"/>
<circle cx="57.3" cy="166.8" r="2.5" fill="#3e26a8"/>
<circle cx="99.2" cy="238.2" r="2.5" fill="#475cfa"/>
<circle cx="181.8" cy="161.9" r="2.5" fill="#f9fb15"/>
<circle cx="197.6" cy="225.8" r="2.5" fill="#f9fb15"/>
<circle cx="191.3" cy="265.7" r="2.5" fill="#f9fb15"/>
<circle cx="178.2" cy="219.9" r="2.5" fill="#eaba31"/>
<circle cx="89.6" cy="251.7" r="2.5" fill="#2699ea"/>
<circle cx="132.4" cy="254.7" r="2.5" fill="#05b6ce"/>
<circle cx="44.3" cy="198.2" r="2.5" fill="#3e26a8"/>
<circle cx="43.6" cy="165.9" r="2.5" fill="#3e26a8"/>
<circle cx="114.1" cy="229.1" r="2.5" fill="#3bc992"/>
<circle cx="194.9" cy="191.0" r="2.5" fill="#f9fb15"/>
<circle cx="64.5" cy="240.9" r="2.5" fill="#475cfa"/>
<circle cx="113.2" cy="264.7" r="2.5" fill="#475cfa"/>
<circle cx="64.7" cy="221.6" r="2.5" fill="#475cfa"/>
<circle cx="92.2" cy="251.7" r="2.5" fill="#3bc992"/>
<circle cx="182.3" cy="160.9" r="2.5" fill="#f9fb15"/>
<circle cx="40.8" cy="157.8" r="2.5" fill="#3e26a8"/>
<circle cx="167.4" cy="249.4" r="2.5" fill="#3bc992"/>
<circle cx="56.2" cy="226.5" r="2.5" fill="#475cfa"/>
<circle cx="114.9" cy="242.1" r="2.5" fill="#2699ea"/>
<circle cx="166.6" cy="208.8" r="2.5" fill="#eaba31"/>
<circle cx="173.0" cy="214.7" r="2.5" fill="#eaba31"/>
<circle cx="93.9" cy="243.2" r="2.5" fill="#3bc992"/>
<circle cx="189.7" cy="203.4" r="2.5" fill="#f9fb15"/>
<circle cx="59.8" cy="263.8" r="2.5" fill="#05b6ce"/>
<circle cx="74.4" cy="260.1" r="2.5" fill="#2699ea"/>
<circle cx="52.0" cy="166.3" r="2.5" fill="#3e26a8"/>
<circle cx="192.3" cy="174.2" r="2.5" fill="#f9fb15"/>
<circle cx="44.7" cy="199.1" r="2.5" fill="#475cfa"/>
<circle cx="51.4" cy="161.5" r="2.5" fill="#3e26a8"/>
<circle cx="99.1" cy="229.2" r="2.5" fill="#475cfa"/>
<circle cx="87.0" cy="234.8" r="2.5" fill="#3bc992"/>
<circle cx="99.0" cy="251.6" r="2.5" fill="#2699ea"/>
<circle cx="51" cy="190.7" r="2.5" fill="#3e26a8"/>
<circle cx="133.9" cy="225.7" r="2.5" fill="#9fc942"/>
<circle cx="51.8" cy="188.2" r="2.5" fill="#475cfa"/>
<circle cx="173.8" cy="161" r="2.5" fill="#eaba31"/>
<circle cx="40.5" cy="245.9" r="2.5" fill="#475cfa"/>
<circle cx="190.0" cy="248.1" r="2.5" fill="#f9fb15"/>
<circle cx="126.1" cy="233.8" r="2.5" fill="#eaba31"/>
<circle cx="195.1" cy="250.9" r="2.5" fill="#f9fb15"/>
<circle cx="191.3" cy="157.4" r="2.5" fill="#f9fb15"/>
<circle cx="174.8" cy="192.8" r="2.5" fill="#eaba31"/>
<circle cx="43.5" cy="223.5" r="2.5" fill="#3e26a8"/>
<circle cx="44.3" cy="226.8" r="2.5" fill="#3e26a8"/>
<circle cx="188.6" cy="182.1" r="2.5" fill="#f9fb15"/>
<circle cx="108.5" cy="244.0" r="2.5" fill="#3bc992"/>
<circle cx="183.5" cy="171.4" r="2.5" fill="#f9fb15"/>
<circle cx="172.7" cy="261.6" r="2.5" fill="#05b6ce"/>
<circle cx="39.9" cy="173.4" r="2.5" fill="#3e26a8"/>
<circle cx="196.5" cy="258.0" r="2.5" fill="#f9fb15"/>
<circle cx="184.5" cy="165.7" r="2.5" fill="#f9fb15"/>
<circle cx="44.0" cy="160.2" r="2.5" fill="#3e26a8"/>
<circle cx="116.8" cy="256.6" r="2.5" fill="#475cfa"/>
<circle cx="135.4" cy="247.1" r="2.5" fill="#eaba31"/>
<circle cx="184.5" cy="232.7" r="2.5" fill="#f9fb15"/>
<circle cx="188.7" cy="188.8" r="2.5" fill="#f9fb15"/>
<circle cx="68.0" cy="226.3" r="2.5" fill="#475cfa"/>
<circle cx="162.6" cy="256.8" r="2.5" fill="#05b6ce"/>
<circle cx="113.4" cy="267.3" r="2.5" fill="#05b6ce"/>
<circle cx="151.0" cy="223.5" r="2.5" fill="#eaba31"/>
<circle cx="190.7" cy="184.9" r="2.5" fill="#f9fb15"/>
<circle cx="72.1" cy="232.6" r="2.5" fill="#475cfa"/>
<circle cx="176.2" cy="243.3" r="2.5" fill="#eaba31"/>
<circle cx="63.4" cy="171.6" r="2.5" fill="#475cfa"/>
<circle cx="50" cy="176.6" r="2.5" fill="#3e26a8"/>
<circle cx="160.6" cy="251.5" r="2.5" fill="#eaba31"/>
<circle cx="178.7" cy="162.9" r="2.5" fill="#f9fb15"/>
<circle cx="196.2" cy="161.1" r="2.5" fill="#f9fb15"/>
<circle cx="41.7" cy="164.0" r="2.5" fill="#3e26a8"/>
<circle cx="53.7" cy="157.8" r="2.5" fill="#3e26a8"/>
<circle cx="78.8" cy="263.7" r="2.5" fill="#475cfa"/>
<circle cx="86.4" cy="249.8" r="2.5" fill="#3bc992"/>
<circle cx="189.5" cy="192.3" r="2.5" fill="#f9fb15"/>
<circle cx="136.0" cy="236.5" r="2.5" fill="#eaba31"/>
<circle cx="196.7" cy="188.8" r="2.5" fill="#eaba31"/>
<circle cx="195.7" cy="181.9" r="2.5" fill="#f9fb15"/>
<circle cx="186.0" cy="158.0" r="2.5" fill="#f9fb15"/>
<circle cx="178.5" cy="169.4" r="2.5" fill="#f9fb15"/>
<circle cx="87.5" cy="223.4" r="2.5" fill="#475cfa"/>
<circle cx="72.8" cy="210.5" r="2.5" fill="#3e26a8"/>
<circle cx="193.1" cy="200.2" r="2.5" fill="#f9fb15"/>
<circle cx="181.7" cy="198.8" r="2.5" fill="#eaba31"/>
<circle cx="185.6" cy="159.6" r="2.5" fill="#f9fb15"/>
<circle cx="147.2" cy="237.2" r="2.5" fill="#3bc992"/>
<circle cx="119.5" cy="241.1" r="2.5" fill="#475cfa"/>
<circle cx="56.8" cy="170.8" r="2.5" fill="#475cfa"/>
<circle cx="142.4" cy="223.0" r="2.5" fill="#eaba31"/>
<circle cx="85.9" cy="263.5" r="2.5" fill="#475cfa"/>
<circle cx="50.6" cy="158.0" r="2.5" fill="#3e26a8"/>
<circle cx="184.3" cy="226.5" r="2.5" fill="#f9fb15"/>
<circle cx="50.3" cy="266.4" r="2.5" fill="#3bc992"/>
<circle cx="46.3" cy="240.9" r="2.5" fill="#05b6ce"/>
<circle cx="174.8" cy="199.5" r="2.5" fill="#eaba31"/>
<circle cx="172.2" cy="246.6" r="2.5" fill="#eaba31"/>
<circle cx="41.2" cy="256.5" r="2.5" fill="#475cfa"/>
<circle cx="130.8" cy="240.3" r="2.5" fill="#3bc992"/>
<circle cx="65.5" cy="245.8" r="2.5" fill="#3bc992"/>
<circle cx="179.3" cy="218.2" r="2.5" fill="#eaba31"/>
<circle cx="183.1" cy="187.0" r="2.5" fill="#f9fb15"/>
<circle cx="116.4" cy="257.2" r="2.5" fill="#3bc992"/>
<circle cx="193.7" cy="198.8" r="2.5" fill="#f9fb15"/>
<circle cx="186.3" cy="173.8" r="2.5" fill="#f9fb15"/>
<circle cx="165.2" cy="223.2" r="2.5" fill="#eaba31"/>
<circle cx="73.7" cy="226.7" r="2.5" fill="#475cfa"/>
<circle cx="39.7" cy="222.4" r="2.5" fill="#3e26a8"/>
<circle cx="161.6" cy="236.8" r="2.5" fill="#eaba31"/>
<circle cx="57.0" cy="248.6" r="2.5" fill="#3e26a8"/>
<circle cx="54.4" cy="158.4" r="2.5" fill="#3e26a8"/>
<circle cx="91.8" cy="256.0" r="2.5" fill="#05b6ce"/>
<circle cx="189.4" cy="243.6" r="2.5" fill="#f9fb15"/>
<circle cx="181.2" cy="221.4" r="2.5" fill="#eaba31"/>
<text transform="translate(36.2,161.9) scale(0.9,1)" font-size="13.2" text-anchor="end" font-weight="normal" font-family='"Liberation Serif", serif' fill="#3a3a3a" font-style="normal" >1</text>
<text transform="translate(36.2,270.6) scale(0.9,1)" font-size="13.2" text-anchor="end" font-weight="normal" font-family='"Liberation Serif", serif' fill="#3a3a3a" font-style="normal" >0</text>
<text transform="translate(40.0,282.1) scale(0.9,1)" font-size="13.2" text-anchor="middle" font-weight="normal" font-family='"Liberation Serif", serif' fill="#3a3a3a" font-style="normal" >0</text>
<text transform="translate(198.7,282.1) scale(0.9,1)" font-size="13.2" text-anchor="middle" font-weight="normal" font-family='"Liberation Serif", serif' fill="#3a3a3a" font-style="normal" >1</text>
<text x="119.5" y="293.5" font-size="13.6" text-anchor="middle" font-weight="bold" font-family='"Liberation Sans", sans-serif' fill="#262626" font-style="normal" >mean deflection</text>
<text transform="translate(16.7,211.9) rotate(-90)" font-size="13.6" text-anchor="middle" font-weight="bold" font-family='"Liberation Sans", sans-serif' fill="#262626">deflection</text>
<text transform="translate(33.4,211.8) rotate(-90)" font-size="13.6" text-anchor="middle" font-weight="bold" font-family='"Liberation Sans", sans-serif' fill="#262626">reliability</text>
<text x="209.0" y="153.0" font-size="18" text-anchor="start" font-weight="bold" font-family='"Liberation Sans", sans-serif' fill="#000" font-style="normal" >d</text>
<path d="M237.5,157.2 V266.8 H395.6 M395.6,266.8 V264.6 M237.5,157.2 H239.7" fill="none" stroke="#262626" stroke-width="1.3" stroke-linecap="butt"/>
<circle cx="252" cy="191" r="2.5" fill="#3e26a8"/>
<circle cx="257.4" cy="190" r="2.5" fill="#4367fd"/>
<circle cx="256" cy="196" r="2.5" fill="#4367fd"/>
<circle cx="259" cy="198" r="2.5" fill="#4367fd"/>
<circle cx="258" cy="202" r="2.5" fill="#3e26a8"/>
<circle cx="256" cy="208" r="2.5" fill="#3e26a8"/>
<circle cx="261" cy="206" r="2.5" fill="#4367fd"/>
<circle cx="257" cy="213" r="2.5" fill="#4367fd"/>
<circle cx="260" cy="211" r="2.5" fill="#4367fd"/>
<circle cx="265" cy="206" r="2.5" fill="#1caadf"/>
<circle cx="270" cy="210" r="2.5" fill="#1caadf"/>
<circle cx="270" cy="215" r="2.5" fill="#3e26a8"/>
<circle cx="274" cy="214" r="2.5" fill="#1caadf"/>
<circle cx="277" cy="208" r="2.5" fill="#3e26a8"/>
<circle cx="268" cy="220" r="2.5" fill="#1caadf"/>
<circle cx="276" cy="195.5" r="2.5" fill="#3e26a8"/>
<circle cx="279" cy="200" r="2.5" fill="#4367fd"/>
<circle cx="289" cy="199.5" r="2.5" fill="#4367fd"/>
<circle cx="288" cy="201" r="2.5" fill="#48cb86"/>
<circle cx="285" cy="206" r="2.5" fill="#3e26a8"/>
<circle cx="291" cy="210" r="2.5" fill="#3e26a8"/>
<circle cx="292" cy="207" r="2.5" fill="#4367fd"/>
<circle cx="296" cy="207" r="2.5" fill="#4367fd"/>
<circle cx="302" cy="205" r="2.5" fill="#4367fd"/>
<circle cx="308.5" cy="209.5" r="2.5" fill="#3e26a8"/>
<circle cx="283" cy="220" r="2.5" fill="#1caadf"/>
<circle cx="284" cy="222" r="2.5" fill="#eaba31"/>
<circle cx="284" cy="227" r="2.5" fill="#1caadf"/>
<circle cx="297" cy="215" r="2.5" fill="#1caadf"/>
<circle cx="301" cy="217" r="2.5" fill="#1caadf"/>
<circle cx="304" cy="223" r="2.5" fill="#48cb86"/>
<circle cx="310" cy="225" r="2.5" fill="#48cb86"/>
<circle cx="308" cy="228.7" r="2.5" fill="#48cb86"/>
<circle cx="311.7" cy="230" r="2.5" fill="#4367fd"/>
<circle cx="317" cy="206.6" r="2.5" fill="#3e26a8"/>
<circle cx="317.5" cy="215.3" r="2.5" fill="#1caadf"/>
<circle cx="317.5" cy="221.6" r="2.5" fill="#1caadf"/>
<circle cx="325.8" cy="220.7" r="2.5" fill="#eaba31"/>
<circle cx="329" cy="220" r="2.5" fill="#1caadf"/>
<circle cx="326.6" cy="224" r="2.5" fill="#48cb86"/>
<circle cx="331.6" cy="225" r="2.5" fill="#4367fd"/>
<circle cx="333.2" cy="228.2" r="2.5" fill="#f9fb15"/>
<circle cx="333.2" cy="230.7" r="2.5" fill="#eaba31"/>
<circle cx="338.2" cy="226.6" r="2.5" fill="#f9fb15"/>
<circle cx="337.4" cy="219.6" r="2.5" fill="#4367fd"/>
<circle cx="342.9" cy="215" r="2.5" fill="#4367fd"/>
<circle cx="341.5" cy="220.2" r="2.5" fill="#1caadf"/>
<circle cx="346.8" cy="220.2" r="2.5" fill="#eaba31"/>
<circle cx="343.2" cy="229" r="2.5" fill="#4367fd"/>
<circle cx="343.2" cy="232.4" r="2.5" fill="#eaba31"/>
<circle cx="339.5" cy="233.2" r="2.5" fill="#f9fb15"/>
<circle cx="350.7" cy="227.4" r="2.5" fill="#1caadf"/>
<circle cx="351.8" cy="233.2" r="2.5" fill="#48cb86"/>
<circle cx="357.3" cy="217.4" r="2.5" fill="#48cb86"/>
<circle cx="361.1" cy="219.6" r="2.5" fill="#eaba31"/>
<circle cx="358.1" cy="224" r="2.5" fill="#eaba31"/>
<circle cx="356.8" cy="229" r="2.5" fill="#eaba31"/>
<circle cx="359.8" cy="227.4" r="2.5" fill="#48cb86"/>
<circle cx="358.1" cy="233.2" r="2.5" fill="#f9fb15"/>
<circle cx="359.8" cy="236.5" r="2.5" fill="#48cb86"/>
<circle cx="355.6" cy="241.5" r="2.5" fill="#48cb86"/>
<circle cx="359.8" cy="241.5" r="2.5" fill="#48cb86"/>
<circle cx="364.4" cy="237.3" r="2.5" fill="#f9fb15"/>
<circle cx="368.1" cy="228.2" r="2.5" fill="#eaba31"/>
<circle cx="367.3" cy="232.4" r="2.5" fill="#eaba31"/>
<circle cx="372.2" cy="223.2" r="2.5" fill="#eaba31"/>
<circle cx="378.9" cy="220.7" r="2.5" fill="#eaba31"/>
<circle cx="369.8" cy="236.5" r="2.5" fill="#eaba31"/>
<circle cx="373" cy="228" r="2.5" fill="#f9fb15"/>
<circle cx="376" cy="226" r="2.5" fill="#f9fb15"/>
<circle cx="379" cy="229" r="2.5" fill="#f9fb15"/>
<circle cx="374" cy="232" r="2.5" fill="#f9fb15"/>
<circle cx="378" cy="234" r="2.5" fill="#f9fb15"/>
<circle cx="381" cy="231" r="2.5" fill="#f9fb15"/>
<circle cx="375" cy="237" r="2.5" fill="#f9fb15"/>
<circle cx="380" cy="238" r="2.5" fill="#f9fb15"/>
<circle cx="383" cy="226" r="2.5" fill="#f9fb15"/>
<circle cx="377" cy="230" r="2.5" fill="#f9fb15"/>
<circle cx="253" cy="195" r="2.5" fill="#4367fd"/>
<circle cx="262" cy="202" r="2.5" fill="#3e26a8"/>
<circle cx="266" cy="209" r="2.5" fill="#1caadf"/>
<circle cx="297" cy="211" r="2.5" fill="#1caadf"/>
<circle cx="314" cy="207" r="2.5" fill="#3e26a8"/>
<circle cx="255" cy="196" r="2.5" fill="#4367fd"/>
<circle cx="258" cy="194" r="2.5" fill="#4367fd"/>
<circle cx="256" cy="200" r="2.5" fill="#4367fd"/>
<circle cx="260" cy="204" r="2.5" fill="#4367fd"/>
<circle cx="254" cy="207" r="2.5" fill="#4367fd"/>
<circle cx="258" cy="210" r="2.5" fill="#4367fd"/>
<circle cx="262" cy="212" r="2.5" fill="#4367fd"/>
<circle cx="265" cy="203" r="2.5" fill="#1caadf"/>
<circle cx="268" cy="206" r="2.5" fill="#1caadf"/>
<circle cx="296" cy="214" r="2.5" fill="#1caadf"/>
<circle cx="299" cy="216" r="2.5" fill="#1caadf"/>
<circle cx="302" cy="219" r="2.5" fill="#1caadf"/>
<circle cx="302" cy="222" r="2.5" fill="#48cb86"/>
<circle cx="305" cy="225" r="2.5" fill="#48cb86"/>
<circle cx="307" cy="222" r="2.5" fill="#48cb86"/>
<circle cx="309" cy="227" r="2.5" fill="#48cb86"/>
<circle cx="304" cy="228" r="2.5" fill="#48cb86"/>
<circle cx="311" cy="226" r="2.5" fill="#48cb86"/>
<circle cx="327" cy="226" r="2.5" fill="#eaba31"/>
<circle cx="331" cy="231" r="2.5" fill="#eaba31"/>
<circle cx="332" cy="226" r="2.5" fill="#f9fb15"/>
<circle cx="336" cy="229" r="2.5" fill="#f9fb15"/>
<circle cx="340" cy="228" r="2.5" fill="#f9fb15"/>
<circle cx="334" cy="232" r="2.5" fill="#f9fb15"/>
<circle cx="338" cy="233" r="2.5" fill="#f9fb15"/>
<circle cx="371" cy="228" r="2.5" fill="#f9fb15"/>
<circle cx="374" cy="225" r="2.5" fill="#f9fb15"/>
<circle cx="377" cy="233" r="2.5" fill="#f9fb15"/>
<circle cx="380" cy="236" r="2.5" fill="#f9fb15"/>
<circle cx="383" cy="229" r="2.5" fill="#f9fb15"/>
<circle cx="369" cy="234" r="2.5" fill="#f9fb15"/>
<circle cx="373" cy="238" r="2.5" fill="#f9fb15"/>
<text transform="translate(233.9,160.6) scale(0.9,1)" font-size="13.2" text-anchor="end" font-weight="normal" font-family='"Liberation Serif", serif' fill="#3a3a3a" font-style="normal" >1</text>
<text transform="translate(233.9,271.0) scale(0.9,1)" font-size="13.2" text-anchor="end" font-weight="normal" font-family='"Liberation Serif", serif' fill="#3a3a3a" font-style="normal" >0</text>
<text transform="translate(237.7,281.8) scale(0.9,1)" font-size="13.2" text-anchor="middle" font-weight="normal" font-family='"Liberation Serif", serif' fill="#3a3a3a" font-style="normal" >0</text>
<text transform="translate(395.5,281.8) scale(0.9,1)" font-size="13.2" text-anchor="middle" font-weight="normal" font-family='"Liberation Serif", serif' fill="#3a3a3a" font-style="normal" >1</text>
<text x="316.6" y="282.5" font-size="13.6" text-anchor="middle" font-family='"Liberation Sans", sans-serif' font-weight="bold" fill="#262626"><tspan font-family='"Liberation Serif", serif' font-weight="normal">Ξ</tspan> predicted</text>
<text x="316.8" y="299.2" font-size="13.6" text-anchor="middle" font-weight="bold" font-family='"Liberation Sans", sans-serif' fill="#262626" font-style="normal" >mean deflection</text>
<text transform="translate(214.3,212) rotate(-90)" font-size="13.6" text-anchor="middle" font-family='"Liberation Sans", sans-serif' font-weight="bold" fill="#262626"><tspan font-family='"Liberation Serif", serif' font-weight="normal" font-size="14.2" dy="0.7">Ξ</tspan><tspan dy="-0.7"> predicted</tspan></text>
<text transform="translate(230.7,211.9) rotate(-90)" font-size="13.6" text-anchor="middle" font-weight="bold" font-family='"Liberation Sans", sans-serif' fill="#262626">reliability</text>
<defs><linearGradient id="cb" x1="0" y1="0" x2="0" y2="1"><stop offset="0.000" stop-color="#f9fb15"/><stop offset="0.050" stop-color="#f5e825"/><stop offset="0.100" stop-color="#fad42e"/><stop offset="0.150" stop-color="#fec13a"/><stop offset="0.200" stop-color="#eaba31"/><stop offset="0.250" stop-color="#c8c129"/><stop offset="0.300" stop-color="#9fc942"/><stop offset="0.350" stop-color="#71cd64"/><stop offset="0.400" stop-color="#48cb86"/><stop offset="0.450" stop-color="#2fc5a2"/><stop offset="0.500" stop-color="#12beb9"/><stop offset="0.550" stop-color="#05b6ce"/><stop offset="0.600" stop-color="#1caadf"/><stop offset="0.650" stop-color="#259ce7"/><stop offset="0.700" stop-color="#2d8cf3"/><stop offset="0.750" stop-color="#347afd"/><stop offset="0.800" stop-color="#4367fd"/><stop offset="0.850" stop-color="#4755f6"/><stop offset="0.900" stop-color="#4743e7"/><stop offset="0.950" stop-color="#4433cc"/><stop offset="1.000" stop-color="#3e26a8"/></linearGradient></defs>
<rect x="395.8" y="160.8" width="9.6" height="98.6" fill="url(#cb)" stroke="#3a3a3a" stroke-width="0.8"/>
<text x="410.6" y="165.2" font-size="10.5" text-anchor="start" font-weight="bold" font-family='"Liberation Sans", sans-serif' fill="#000" font-style="normal" >6,8</text>
<text x="416.2" y="263.3" font-size="10.5" text-anchor="middle" font-weight="bold" font-family='"Liberation Sans", sans-serif' fill="#000" font-style="normal" >1</text>
<text transform="translate(417.6,210.0) rotate(-90)" font-size="9.6" text-anchor="middle" font-weight="bold" font-family='"Liberation Sans", sans-serif' fill="#000">stim label by def</text>
<text x="420.6" y="153.4" font-size="18" text-anchor="start" font-weight="bold" font-family='"Liberation Sans", sans-serif' fill="#000" font-style="normal" >e</text>
<path d="M466.0,266.4 V248 H519.1 V241 H683.5 V266.4 Z" fill="#c4c4c4"/>
<path d="M473.2,215.1 H485.2 V240.4 H491.4 V247.0 H485.2 V250.7 H473.2 V247.0 H467.0 V240.4 H473.2 Z" fill="#893555" fill-opacity="0.5"/>
<path d="M467.0,245.2 H491.4" stroke="#e2587a" stroke-width="1.3"/>
<path d="M500.5,222.4 H512.5 V232.8 H518.7 V244.7 H512.5 V250.3 H500.5 V244.7 H494.3 V232.8 H500.5 Z" fill="#893555" fill-opacity="0.5"/>
<path d="M494.3,235.0 H518.7" stroke="#e2587a" stroke-width="1.3"/>
<path d="M527.8,168.3 H539.8 V198.5 H546.0 V221.2 H539.8 V224.9 H527.8 V221.2 H521.5999999999999 V198.5 H527.8 Z" fill="#893555" fill-opacity="0.5"/>
<path d="M521.5999999999999,212.6 H546.0" stroke="#e2587a" stroke-width="1.3"/>
<path d="M555.1,172.2 H567.1 V206.6 H573.3000000000001 V226.3 H567.1 V231.0 H555.1 V226.3 H548.9 V206.6 H555.1 Z" fill="#893555" fill-opacity="0.5"/>
<path d="M548.9,217.4 H573.3000000000001" stroke="#e2587a" stroke-width="1.3"/>
<path d="M582.4,218.0 H594.4 V227.3 H600.6 V239.0 H594.4 V248.6 H582.4 V239.0 H576.1999999999999 V227.3 H582.4 Z" fill="#893555" fill-opacity="0.5"/>
<path d="M576.1999999999999,235.3 H600.6" stroke="#e2587a" stroke-width="1.3"/>
<path d="M609.7,208.7 H621.7 V215.1 H627.9000000000001 V222.6 H621.7 V234.0 H609.7 V222.6 H603.5 V215.1 H609.7 Z" fill="#893555" fill-opacity="0.5"/>
<path d="M603.5,218.6 H627.9000000000001" stroke="#e2587a" stroke-width="1.3"/>
<path d="M637.0,200.0 H649.0 V219.4 H655.2 V232.4 H649.0 V242.0 H637.0 V232.4 H630.8 V219.4 H637.0 Z" fill="#893555" fill-opacity="0.5"/>
<path d="M630.8,225.7 H655.2" stroke="#e2587a" stroke-width="1.3"/>
<path d="M664.3,200.7 H676.3 V209.8 H682.5 V235.9 H676.3 V237.7 H664.3 V235.9 H658.0999999999999 V209.8 H664.3 Z" fill="#893555" fill-opacity="0.5"/>
<path d="M658.0999999999999,235.0 H682.5" stroke="#e2587a" stroke-width="1.3"/>
<path d="M466.0,157.1 V266.4 H684.0 M479.2,266.4 V264.4 M506.5,266.4 V264.4 M533.8,266.4 V264.4 M561.1,266.4 V264.4 M588.4,266.4 V264.4 M615.7,266.4 V264.4 M643.0,266.4 V264.4 M670.3,266.4 V264.4 M466.0,235.4 H468.0 M466.0,204.4 H468.0 M466.0,173.4 H468.0" fill="none" stroke="#262626" stroke-width="1.3" stroke-linecap="butt"/>
<text transform="translate(462.3,175.5) scale(0.96,1)" font-size="13.2" text-anchor="end" font-weight="normal" font-family='"Liberation Serif", serif' fill="#3a3a3a" font-style="normal" >0.6</text>
<text transform="translate(461.3,269.6) scale(0.9,1)" font-size="13.2" text-anchor="end" font-weight="normal" font-family='"Liberation Serif", serif' fill="#3a3a3a" font-style="normal" >0</text>
<text transform="translate(443.7,220.7) rotate(-90)" font-size="13.6" text-anchor="middle" font-weight="bold" font-family='"Liberation Sans", sans-serif' fill="#262626">correct classification</text>
<text transform="translate(459.4,220.0) rotate(-90)" font-size="13.6" text-anchor="middle" font-weight="bold" font-family='"Liberation Sans", sans-serif' fill="#262626">rate</text>
<text x="470.0" y="277.2" font-size="8.6" font-family='"Liberation Serif", serif' font-style="italic" fill="#262626" textLength="11.6" lengthAdjust="spacing">I,O</text>
<text x="485.0" y="281.6" font-size="13.0" font-family='"Liberation Serif", serif' font-style="italic" fill="#262626">I</text>
<text x="496.1" y="277.2" font-size="8.6" font-family='"Liberation Serif", serif' font-style="italic" fill="#262626" textLength="13.0" lengthAdjust="spacing">E,O</text>
<text x="512.4" y="281.6" font-size="13.0" font-family='"Liberation Serif", serif' font-style="italic" fill="#262626">I</text>
<text x="524.1" y="277.2" font-size="8.6" font-family='"Liberation Serif", serif' font-style="italic" fill="#262626" textLength="11.2" lengthAdjust="spacing">I,C</text>
<text x="538.4" y="281.6" font-size="13.0" font-family='"Liberation Serif", serif' font-style="italic" fill="#262626">I</text>
<text x="550.4" y="277.2" font-size="8.6" font-family='"Liberation Serif", serif' font-style="italic" fill="#262626" textLength="13.6" lengthAdjust="spacing">E,C</text>
<text x="567.3000000000001" y="281.6" font-size="13.0" font-family='"Liberation Serif", serif' font-style="italic" fill="#262626">I</text>
<text x="576.3000000000001" y="277.2" font-size="8.6" font-family='"Liberation Serif", serif' font-style="italic" fill="#262626" textLength="12.8" lengthAdjust="spacing">R,C</text>
<text x="591.7" y="281.6" font-size="13.0" font-family='"Liberation Serif", serif' font-style="italic" fill="#262626">V</text>
<text x="606.4" y="277.2" font-size="8.6" font-family='"Liberation Serif", serif' font-style="italic" fill="#262626" textLength="10.7" lengthAdjust="spacing">I,S</text>
<text x="619.9" y="281.6" font-size="13.0" font-family='"Liberation Serif", serif' font-style="italic" fill="#262626">I</text>
<text x="632.5" y="277.2" font-size="8.6" font-family='"Liberation Serif", serif' font-style="italic" fill="#262626" textLength="13.1" lengthAdjust="spacing">E,S</text>
<text x="648.3000000000001" y="281.6" font-size="13.0" font-family='"Liberation Serif", serif' font-style="italic" fill="#262626">I</text>
<text x="658.2" y="277.2" font-size="8.6" font-family='"Liberation Serif", serif' font-style="italic" fill="#262626" textLength="13.1" lengthAdjust="spacing">R,S</text>
<text x="673.0" y="281.6" font-size="13.0" font-family='"Liberation Serif", serif' font-style="italic" fill="#262626">V</text>
<text x="494.8" y="219.3" font-size="10.5" font-family='"Liberation Serif", serif' fill="#262626">*</text><text x="499.8" y="217.0" font-size="10.5" font-family='"Liberation Serif", serif' fill="#262626">,</text><text x="503.4" y="217.0" font-size="10.5" font-family='"Liberation Serif", serif' fill="#262626">†</text><text x="508.4" y="217.0" font-size="10.5" font-family='"Liberation Serif", serif' fill="#262626">,</text><text x="512.0" y="217.0" font-size="10.5" font-family='"Liberation Serif", serif' fill="#262626">§</text>
<text x="526.4" y="165.2" font-size="10.5" font-family='"Liberation Serif", serif' fill="#262626">*</text><text x="531.4" y="162.9" font-size="10.5" font-family='"Liberation Serif", serif' fill="#262626">,</text><text x="535.0" y="162.9" font-size="10.5" font-family='"Liberation Serif", serif' fill="#262626">†</text>
<text x="558.0" y="169.1" font-size="10.5" font-family='"Liberation Serif", serif' fill="#262626">*</text>
<text x="585.3" y="214.9" font-size="10.5" font-family='"Liberation Serif", serif' fill="#262626">*</text>
<text x="604.0" y="205.6" font-size="10.5" font-family='"Liberation Serif", serif' fill="#262626">*</text><text x="609.0" y="203.3" font-size="10.5" font-family='"Liberation Serif", serif' fill="#262626">,</text><text x="612.6" y="203.3" font-size="10.5" font-family='"Liberation Serif", serif' fill="#262626">†</text><text x="617.6" y="203.3" font-size="10.5" font-family='"Liberation Serif", serif' fill="#262626">,</text><text x="621.2" y="203.3" font-size="10.5" font-family='"Liberation Serif", serif' fill="#262626">§</text>
<text x="631.3" y="196.9" font-size="10.5" font-family='"Liberation Serif", serif' fill="#262626">*</text><text x="636.3" y="194.6" font-size="10.5" font-family='"Liberation Serif", serif' fill="#262626">,</text><text x="639.9" y="194.6" font-size="10.5" font-family='"Liberation Serif", serif' fill="#262626">†</text><text x="644.9" y="194.6" font-size="10.5" font-family='"Liberation Serif", serif' fill="#262626">,</text><text x="648.5" y="194.6" font-size="10.5" font-family='"Liberation Serif", serif' fill="#262626">§</text>
<text x="667.2" y="197.6" font-size="10.5" font-family='"Liberation Serif", serif' fill="#262626">*</text>
</svg></body></html>
